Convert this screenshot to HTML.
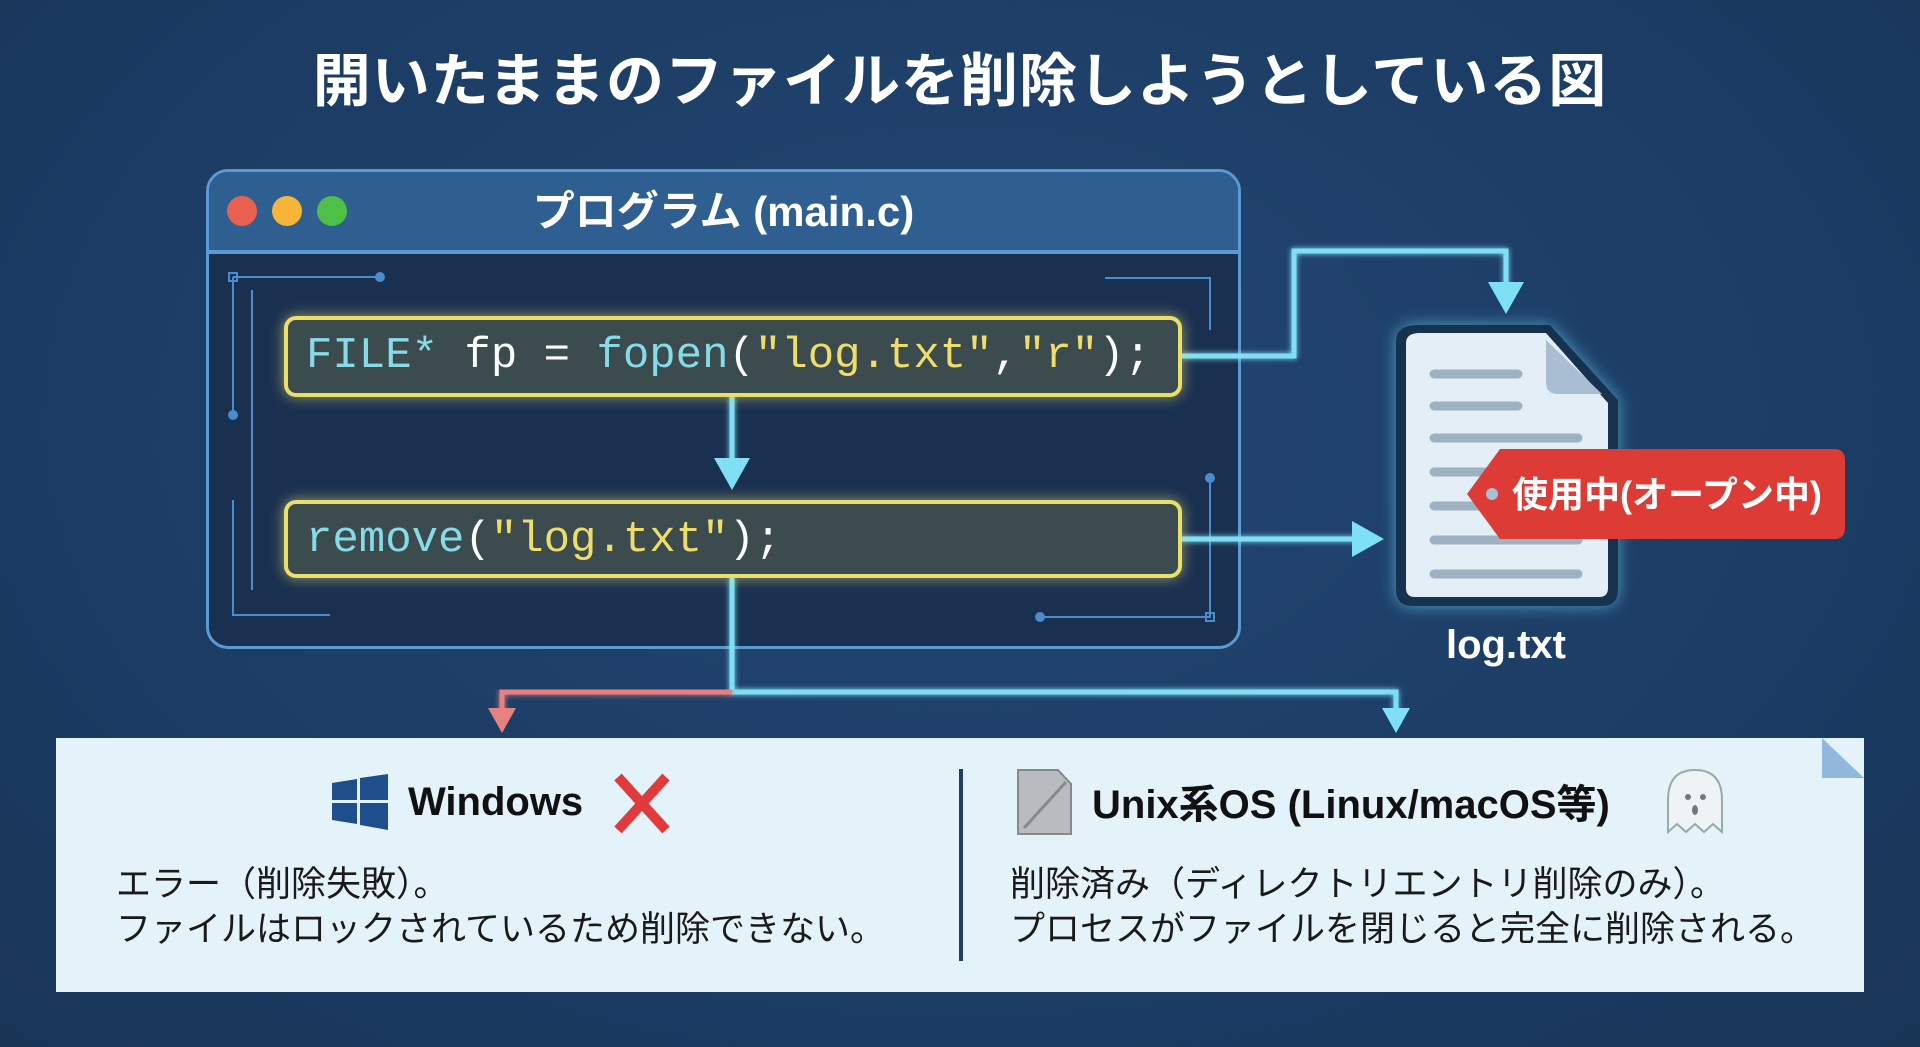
<!DOCTYPE html>
<html><head><meta charset="utf-8"><style>
body{margin:0;width:1920px;height:1047px;overflow:hidden;background:radial-gradient(ellipse at 50% 40%,#224672,#1b3b62 70%,#183556);font-family:"Liberation Sans","Noto Sans CJK JP",sans-serif;position:relative}
.a{position:absolute}
.title{left:0;width:1920px;top:34px;text-align:center;color:#fff;font-size:58px;font-weight:bold;letter-spacing:1px}
.win{left:206px;top:169px;width:1029px;height:474px;border:3px solid #5b9bd3;border-radius:22px;background:#1a3050;overflow:hidden}
.bar{left:0;top:0;width:100%;height:78px;background:#2f5f91;border-bottom:4px solid #5b9bd3}
.dot{width:30px;height:30px;border-radius:50%;top:24px}
.wt{left:0;width:100%;top:6px;text-align:center;color:#fff;font-size:42px;font-weight:bold}
.code{border:4px solid #e8e06a;border-radius:12px;background:#3c4b4e;box-shadow:0 0 14px rgba(240,230,110,.6);font-family:"Liberation Mono",monospace;font-size:44px;line-height:73px;padding-left:18px;box-sizing:border-box;color:#fff}
.c{color:#86dbe8}.y{color:#eedd6a}
.panel{left:56px;top:738px;width:1808px;height:254px;background:#e4f2f9}
.bt{font-size:35px;color:#1a1a1a;line-height:45px}
.h{font-size:40px;font-weight:bold;color:#111}
</style></head><body>
<div class="a title">開いたままのファイルを削除しようとしている図</div>
<div class="a win">
 <div class="a bar"></div>
 <div class="a dot" style="left:18px;background:#e8604f"></div>
 <div class="a dot" style="left:63px;background:#f6b53a"></div>
 <div class="a dot" style="left:108px;background:#4ebf47"></div>
 <div class="a wt">プログラム (main.c)</div>
</div>
<svg class="a" style="left:0;top:0" width="1920" height="1047">
 <defs><filter id="g"><feGaussianBlur stdDeviation="3" result="b"/><feMerge><feMergeNode in="b"/><feMergeNode in="SourceGraphic"/></feMerge></filter>
 <filter id="g2" x="-20%" y="-20%" width="140%" height="140%"><feGaussianBlur in="SourceAlpha" stdDeviation="8" result="b"/><feFlood flood-color="#5fc8ee" flood-opacity="0.7"/><feComposite in2="b" operator="in" result="s"/><feMerge><feMergeNode in="s"/><feMergeNode in="SourceGraphic"/></feMerge></filter></defs>
 <g stroke="#4a8ccc" stroke-width="2" fill="none">
  <path d="M233 277H380M233 277V415M252 290V590M233 500V615H330M1105 278H1210V330M1210 478V617H1040"/>
  <rect x="229" y="273" width="8" height="8"/><rect x="1206" y="613" width="8" height="8"/>
 </g>
 <g fill="#4a8ccc"><circle cx="380" cy="277" r="5"/><circle cx="233" cy="415" r="5"/><circle cx="1210" cy="478" r="5"/><circle cx="1040" cy="617" r="5"/></g>
 <g stroke="#7fe0f5" stroke-width="5" fill="none" filter="url(#g)">
  <path d="M732 397V465M1182 356H1294V251H1506V290M1182 539H1360M732 578V692H1396V715"/>
 </g>
 <path d="M732 692H502V715" stroke="#e88080" stroke-width="5" fill="none" filter="url(#g)"/>
 <g fill="#7fe0f5">
  <path d="M714 458L750 458L732 490Z"/><path d="M1488 282L1524 282L1506 314Z"/>
  <path d="M1352 521L1384 539L1352 557Z"/><path d="M1382 708L1410 708L1396 733Z"/>
 </g>
 <path d="M488 708L516 708L502 733Z" fill="#e88080"/>
 <path d="M1418 325H1550L1618 400V590Q1618 606 1602 606H1412Q1396 606 1396 590V341Q1396 325 1418 325Z" fill="#14304f" filter="url(#g2)"/>
 <path d="M1420 333H1546L1608 403V588Q1608 597 1599 597H1415Q1406 597 1406 588V343Q1406 333 1420 333Z" fill="#e4eef6"/>
 <path d="M1546 340V382Q1546 394 1558 394H1602Z" fill="#a9bed2"/>
 <g stroke="#9fb2c4" stroke-width="9" stroke-linecap="round">
  <path d="M1434 374H1518M1434 406H1518M1434 438H1578M1434 472H1578M1434 506H1578M1434 540H1578M1434 574H1578"/>
 </g>
 <path d="M1500 449H1834Q1845 449 1845 460V528Q1845 539 1834 539H1500L1467 494Z" fill="#dd3b35"/>
 <circle cx="1492" cy="494" r="6" fill="#a9c0d4"/>
 <text x="1512" y="507" font-size="36" font-weight="bold" fill="#fff" font-family="Liberation Sans,Noto Sans CJK JP,sans-serif">使用中(オープン中)</text>
 <text x="1506" y="658" font-size="40" font-weight="bold" fill="#fff" text-anchor="middle" font-family="Liberation Sans,sans-serif">log.txt</text>
</svg>
<div class="a code" style="left:284px;top:316px;width:898px;height:81px"><span class="c">FILE*</span> fp = <span class="c">fopen</span>(<span class="y">"log.txt"</span>,<span class="y">"r"</span>);</div>
<div class="a code" style="left:284px;top:500px;width:898px;height:78px"><span class="c">remove</span>(<span class="y">"log.txt"</span>);</div>
<div class="a panel"></div>
<svg class="a" style="left:0;top:0" width="1920" height="1047">
 <path d="M1822 738L1864 778H1822Z" fill="#8fb8dc"/>
 <rect x="959" y="769" width="4" height="192" fill="#1f3d66"/>
 <g fill="#1f4f8a"><path d="M332 783L357 779V800H332Z"/><path d="M360 778L388 774V800H360Z"/><path d="M332 803H357V824L332 820Z"/><path d="M360 803H388V830L360 825Z"/></g>
 <path d="M618 777L666 830M666 777L618 830" stroke="#e03a3a" stroke-width="10"/>
 <path d="M1018 770H1058L1071 784V834H1018Z" fill="#b8bcc0" stroke="#888" stroke-width="2"/>
 <path d="M1024 828L1066 782" stroke="#888" stroke-width="3"/>
 <path d="M1668 832V800Q1668 770 1695 770Q1722 770 1722 800V832L1713 824L1704 832L1695 824L1686 832L1677 824Z" fill="#eef3f6" stroke="#9aa" stroke-width="2"/>
 <circle cx="1688" cy="797" r="3" fill="#777"/><circle cx="1703" cy="797" r="3" fill="#777"/><ellipse cx="1695" cy="810" rx="3" ry="5" fill="#777"/>
</svg>
<div class="a h" style="left:408px;top:780px">Windows</div>
<div class="a h" style="left:1092px;top:772px">Unix系OS (Linux/macOS等)</div>
<div class="a bt" style="left:116px;top:862px">エラー（削除失敗）。<br>ファイルはロックされているため削除できない。</div>
<div class="a bt" style="left:1010px;top:862px">削除済み（ディレクトリエントリ削除のみ）。<br>プロセスがファイルを閉じると完全に削除される。</div>
</body></html>
